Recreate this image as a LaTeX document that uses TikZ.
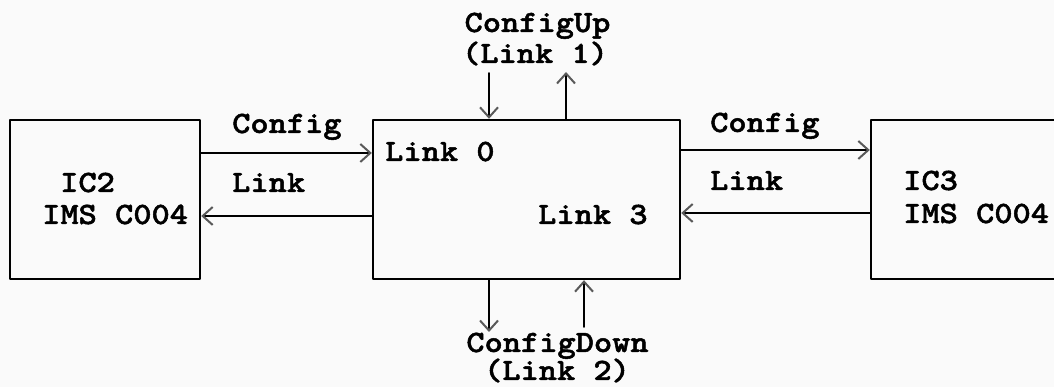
\documentclass[tikz,border=0pt]{standalone}
\usepackage{fontspec}
\setmonofont{lmmonolt10-bold.otf}[FakeStretch=1.12,FakeBold=1.6]
\usetikzlibrary{arrows.meta}
\usetikzlibrary{positioning}

\begin{document}
\begin{tikzpicture}[line cap=round,line join=round,x=1pt,y=1pt,
  chip/.style={draw,line width=2.4pt,minimum width=#1,minimum height=159pt,inner sep=0pt},
  flow/.style={line width=1.8pt,-{Straight Barb[length=10pt,width=18pt,line width=2pt,color=black!65]}},
  lbl/.style={anchor=base,inner sep=0pt,font=\fontsize{31}{32}\selectfont\ttfamily},
  lblw/.style={lbl,anchor=base west}]
\useasboundingbox (0,0) rectangle (1054,387);
\clip (0,0) rectangle (1054,387);
\fill[black!2] (0,0) rectangle (1054,387);
% boxes
\node[chip=190pt] (ic2) at (105,187.5) {};
\node[chip=307pt] (hub) at (526.5,187.5) {};
\node[chip=220pt] (ic3) at (981,187.5) {};
% texts in boxes
\node[lblw] (ic2a) at (60,195) {IC2};
\node[lblw] (ic2b) at (42,163) {IMS C004};
\node[lblw] (l0) at (385,226) {Link 0};
\node[lblw] (l3) at (538,163) {Link 3};
\node[lblw] (ic3a) at (903,197) {IC3};
\node[lblw] (ic3b) at (903,164) {IMS C004};
% side links
\draw[flow] ([yshift=46.5pt]ic2.east) -- ([yshift=46.5pt]hub.west);
\draw[flow] ([yshift=-16.5pt]hub.west) -- ([yshift=-16.5pt]ic2.east);
\draw[flow] ([yshift=49.5pt]hub.east) -- ([yshift=49.5pt]ic3.west);
\draw[flow] ([yshift=-13.5pt]ic3.west) -- ([yshift=-13.5pt]hub.east);
\node[lblw] (cfgl) at (232,254) {Config};
\node[lblw] (lnkl) at (232,195) {Link};
\node[lblw] (cfgr) at (710,255) {Config};
\node[lblw] (lnkr) at (710,197) {Link};
% up and down links
\coordinate (upin) at (489,314);
\coordinate (upout) at (566,315);
\coordinate (dnout) at (489,55);
\coordinate (dnin) at (584,60);
\draw[flow] (upin) -- ([xshift=-37.5pt]hub.north);
\draw[flow] ([xshift=39.5pt]hub.north) -- (upout);
\draw[flow] ([xshift=-37.5pt]hub.south) -- (dnout);
\draw[flow] (dnin) -- ([xshift=57.5pt]hub.south);
\node[lbl] (up1) at (537.5,355) {ConfigUp};
\node[lbl] (up2) at (535,324) {(Link 1)};
\node[lbl] (dn1) at (557.5,35) {ConfigDown};
\node[lbl] (dn2) at (557,7) {(Link 2)};
\end{tikzpicture}
\end{document}
